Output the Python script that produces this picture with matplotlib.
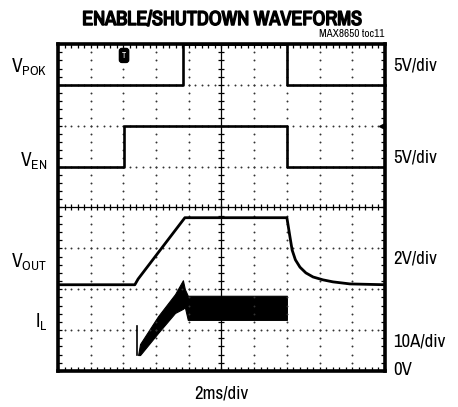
import numpy as np
import matplotlib
matplotlib.use("Agg")
import matplotlib.pyplot as plt
import matplotlib.patheffects as pe
from matplotlib import font_manager

# pick a narrow sans if one is installed, otherwise Liberation Sans
fonts = font_manager.fontManager.ttflist
narrow = sorted([f for f in fonts if 'Narrow' in f.name or f.stretch in ('condensed', 'semi-condensed')],
                key=lambda f: 'Narrow' not in f.name)
if narrow:
    fam, stretch = narrow[0].name, narrow[0].stretch
    is_arial_narrow = 'Narrow' in fam
else:
    fam, stretch = 'Liberation Sans', 'normal'
    is_arial_narrow = False
bold_file = [f.fname for f in fonts if f.name == fam and str(f.weight) in ('700', 'bold', '800', '900')]
plt.rcParams['font.family'] = [fam, 'DejaVu Sans']
plt.rcParams['font.stretch'] = stretch
plt.rcParams['mathtext.fontset'] = 'custom'
plt.rcParams['mathtext.rm'] = fam

# traces, in scope divisions (x: 0..10, y: 0..8)
pok_t = [0, 3.82, 3.82, 7.0, 7.0, 10]
pok_v = [7.0, 7.0, 8.0, 8.0, 7.0, 7.0]

en_t = [0, 2.02, 2.02, 7.0, 7.0, 10]
en_v = [5.0, 5.0, 6.0, 6.0, 5.0, 5.0]

vout_t = [0, 2.35, 2.45, 3.88, 7.0, 7.04, 7.09, 7.16, 7.26, 7.40, 7.58, 7.80, 8.10, 8.41, 8.93, 10]
vout_v = [2.11, 2.11, 2.25, 3.75, 3.75, 3.55, 3.30, 2.96, 2.72, 2.54, 2.40, 2.30, 2.23, 2.18, 2.13, 2.11]

il_t = [2.45, 2.51, 3.06, 3.58, 3.82, 3.88, 3.97, 7.00]
il_hi = [0.39, 0.66, 1.34, 1.88, 2.22, 2.00, 1.84, 1.84]
il_lo = [0.39, 0.39, 0.93, 1.42, 1.52, 1.56, 1.25, 1.25]
il_spike_t = [2.41, 2.41]
il_spike_v = [1.10, 0.39]

left_labels = [r'V$_{\mathrm{POK}}$', r'V$_{\mathrm{EN}}$', r'V$_{\mathrm{OUT}}$', r'I$_{\mathrm{L}}$']
left_y = [7.30, 5.00, 2.52, 1.05]
right_labels = ['5V/div', '5V/div', '2V/div', '10A/div', '0V']
right_y = [7.36, 5.10, 2.62, 0.59, -0.10]

if is_arial_narrow:
    lab_size, title_size, note_size = 13.5, 14.5, 8
else:
    lab_size, title_size, note_size = 11.5, 12.3, 7

fig = plt.figure(figsize=(4.58, 4.07), dpi=100)
ax = fig.add_axes([0.1266, 0.0885, 0.714, 0.8034])
ax.set_xlim(0, 10)
ax.set_ylim(0, 8)

# graticule: dotted lines with dots every 1/5 division
minor_x = np.arange(0, 50.5) / 5
minor_y = np.arange(0, 40.5) / 5
for gx in range(1, 10):
    if gx != 5:
        ax.plot(np.full_like(minor_y, gx), minor_y, ls='', marker='o', ms=1.4, color='#333333', mew=0)
for gy in range(1, 8):
    if gy != 4:
        ax.plot(minor_x, np.full_like(minor_x, gy), ls='', marker='o', ms=1.4, color='#333333', mew=0)
ax.axvline(5, color='black', lw=0.9)
ax.axhline(4, color='black', lw=0.9)
ax.plot(np.full_like(minor_y, 5), minor_y, ls='', marker='_', ms=4.5, mew=0.9, color='black')
ax.plot(minor_x, np.full_like(minor_x, 4), ls='', marker='|', ms=4.5, mew=0.9, color='black')

ax.set_xticks(range(11))
ax.set_yticks(range(9))
ax.set_xticks(minor_x, minor=True)
ax.set_yticks(minor_y, minor=True)
ax.tick_params(which='both', direction='in', top=True, right=True, labelleft=False,
               labelbottom=False, length=3, width=0.9)
for s in ax.spines.values():
    s.set_linewidth(2.6)

# waveforms
ax.plot(pok_t, pok_v, color='black', lw=1.9, clip_on=False)
ax.plot(en_t, en_v, color='black', lw=1.9)
ax.plot(vout_t, vout_v, color='black', lw=2.0)
ax.fill_between(il_t, il_lo, il_hi, color='black', lw=0.8, edgecolor='black')
ax.plot(il_spike_t, il_spike_v, color='black', lw=1.2)

# trigger and channel markers
ax.text(2.02, 7.72, 'T', color='white', fontsize=6, fontweight='bold', ha='center', va='center',
        bbox=dict(boxstyle='round,pad=0.3', fc='black', ec='black'))
ax.plot([9.9], [6.0], marker='<', ms=5, color='black', clip_on=False, zorder=5)

for lab, y in zip(left_labels, left_y):
    ax.text(-0.33, y, lab, ha='right', va='baseline', fontsize=lab_size + 0.5, clip_on=False)
for lab, y in zip(right_labels, right_y):
    ax.text(10.25, y, lab, ha='left', va='baseline', fontsize=lab_size, clip_on=False)

ax.text(5.0, -0.68, '2ms/div', ha='center', va='baseline', fontsize=lab_size, clip_on=False)

if bold_file:
    title_font = font_manager.FontProperties(fname=bold_file[0], size=title_size)
else:
    title_font = font_manager.FontProperties(family=fam, stretch=stretch, weight='bold', size=title_size)
fig.text(0.485, 0.9386, 'ENABLE/SHUTDOWN WAVEFORMS', ha='center', va='baseline',
         fontproperties=title_font,
         path_effects=[pe.withStroke(linewidth=1.1, foreground='black')])
fig.text(0.8384, 0.909, 'MAX8650 toc11', ha='right', va='baseline', fontsize=note_size)

fig.savefig('out.png', dpi=100)
